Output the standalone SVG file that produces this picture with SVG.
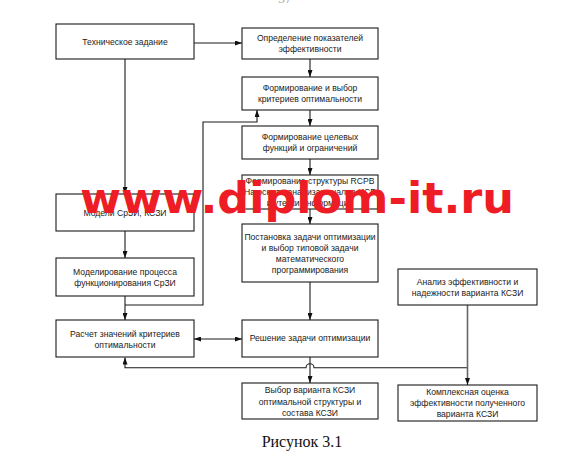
<svg xmlns="http://www.w3.org/2000/svg" width="561" height="460" viewBox="0 0 561 460">
<style>
.b{fill:#fff;stroke:#1a1a1a;stroke-width:1.1}
.t{font-family:"Liberation Sans",Arial,sans-serif;font-size:8.6px;fill:#222;text-anchor:middle}
.c{fill:none;stroke:#1a1a1a;stroke-width:1.1}
.g{fill:none;stroke:#666;stroke-width:1.6}
.wm{font-family:"DejaVu Sans",Verdana,sans-serif;font-weight:bold;font-size:43px;fill:#ee1c24}
.cap{font-family:"Liberation Serif","Times New Roman",serif;font-size:16px;fill:#111;text-anchor:middle}
</style>
<defs>
<marker id="ah" viewBox="0 0 7 5" refX="7" refY="2.5" markerWidth="7" markerHeight="5" markerUnits="userSpaceOnUse" orient="auto-start-reverse">
<path d="M0,0 L7,2.5 L0,5 z" fill="#111"/>
</marker>
</defs>
<rect width="561" height="460" fill="#fff"/>
<text x="285" y="3" style="font-family:'Liberation Serif',serif;font-size:14px;fill:#aaa" text-anchor="middle">57</text>

<g id="connectors">
<line class="c" x1="194" y1="43" x2="242" y2="43" marker-end="url(#ah)"/>
<line class="c" x1="310" y1="59" x2="310" y2="77" marker-end="url(#ah)"/>
<line class="c" x1="310" y1="110" x2="310" y2="126" marker-end="url(#ah)"/>
<line class="c" x1="310" y1="159" x2="310" y2="175" marker-end="url(#ah)"/>
<line class="c" x1="310" y1="209" x2="310" y2="224" marker-end="url(#ah)"/>
<line class="c" x1="310" y1="282" x2="310" y2="320" marker-end="url(#ah)"/>
<line class="c" x1="125" y1="59" x2="125" y2="194" marker-end="url(#ah)"/>
<line class="c" x1="125" y1="231" x2="125" y2="258" marker-end="url(#ah)"/>
<line class="c" x1="125" y1="296" x2="125" y2="320" marker-end="url(#ah)"/>
<polyline class="c" points="125,305 203,305 203,122 257,122 257,110" marker-end="url(#ah)"/>
<line class="c" x1="194" y1="339" x2="242" y2="339" marker-start="url(#ah)" marker-end="url(#ah)"/>
<line class="c" x1="310" y1="357" x2="310" y2="383" marker-end="url(#ah)"/>
<path class="c" d="M467.5,367.7 L314,367.7 A4,4 0 0 0 306,367.7 L125,367.7 L125,357.5" marker-end="url(#ah)"/>
<line class="g" x1="467.5" y1="305" x2="467.5" y2="379"/>
<line class="c" x1="467.5" y1="378" x2="467.5" y2="385" marker-end="url(#ah)"/>
</g>

<g id="n-tz"><rect class="b" x="56" y="24" width="138" height="35"/><text class="t" x="125" y="44.5">Техническое задание</text></g>
<g id="n-opr"><rect class="b" x="242" y="28" width="136" height="31"/><text class="t" x="310" y="41">Определение показателей</text><text class="t" x="310" y="52">эффективности</text></g>
<g id="n-fvk"><rect class="b" x="242" y="77" width="136" height="33"/><text class="t" x="310" y="91">Формирование и выбор</text><text class="t" x="310" y="102">критериев оптимальности</text></g>
<g id="n-fcf"><rect class="b" x="242" y="126" width="136" height="33"/><text class="t" x="310" y="140">Формирование целевых</text><text class="t" x="310" y="151">функций и ограничений</text></g>
<g id="n-fs"><rect class="b" x="242" y="175" width="136" height="34"/><text class="t" x="310" y="184">Формирование структуры RCPB</text><text class="t" x="310" y="195">На основе анализа каналов ИСР</text><text class="t" x="310" y="206">и утечки информации</text></g>
<g id="n-mod"><rect class="b" x="56" y="194" width="138" height="37"/><text class="t" x="125" y="215.5">Модели СрЗИ, КСЗИ</text></g>
<g id="n-post"><rect class="b" x="242" y="224" width="136" height="58"/><text class="t" x="310" y="239.5">Постановка задачи оптимизации</text><text class="t" x="310" y="250.7">и выбор типовой задачи</text><text class="t" x="310" y="261.8">математического</text><text class="t" x="310" y="273">программирования</text></g>
<g id="n-modp"><rect class="b" x="56" y="258" width="138" height="38"/><text class="t" x="125" y="274.5">Моделирование процесса</text><text class="t" x="125" y="285.5">функционирования СрЗИ</text></g>
<g id="n-an"><rect class="b" x="398" y="269" width="139" height="36"/><text class="t" x="467.5" y="284.8">Анализ эффективности и</text><text class="t" x="467.5" y="296">надежности варианта КСЗИ</text></g>
<g id="n-rasch"><rect class="b" x="56" y="320" width="138" height="37"/><text class="t" x="125" y="336.5">Расчет значений критериев</text><text class="t" x="125" y="347.5">оптимальности</text></g>
<g id="n-resh"><rect class="b" x="242" y="320" width="136" height="37"/><text class="t" x="310" y="341.3">Решение задачи оптимизации</text></g>
<g id="n-vyb"><rect class="b" x="242" y="383" width="136" height="36"/><text class="t" x="310" y="393">Выбор варианта КСЗИ</text><text class="t" x="310" y="404.5">оптимальной структуры и</text><text class="t" x="310" y="416">состава КСЗИ</text></g>
<g id="n-kompl"><rect class="b" x="398" y="385" width="139" height="36"/><text class="t" x="467.5" y="395">Комплексная оценка</text><text class="t" x="467.5" y="406">эффективности полученного</text><text class="t" x="467.5" y="417">варианта КСЗИ</text></g>

<text class="wm" x="80" y="213" textLength="434" lengthAdjust="spacingAndGlyphs">www.diplom-it.ru</text>
<text class="cap" x="302" y="447">Рисунок 3.1</text>
</svg>
